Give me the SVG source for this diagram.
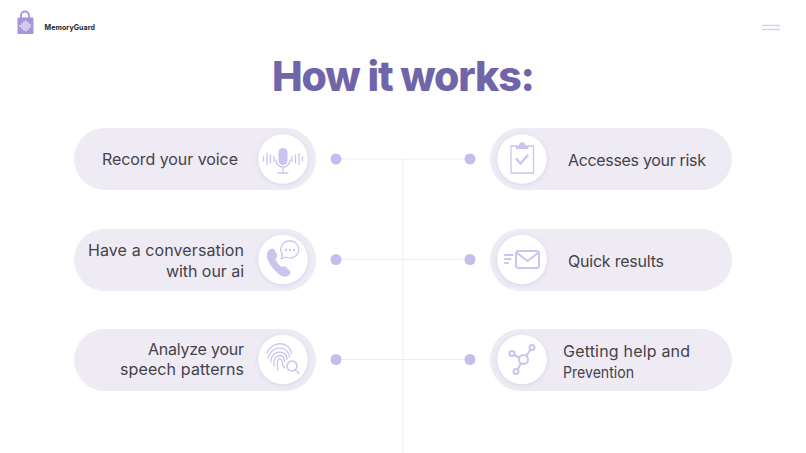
<svg xmlns="http://www.w3.org/2000/svg" width="806" height="453" viewBox="0 0 806 453">
<defs>
<filter id="s" x="-30%" y="-30%" width="160%" height="160%"><feDropShadow dx="0" dy="1" stdDeviation="2" flood-color="#6b5ea8" flood-opacity="0.18"/></filter>
</defs>
<style>
.pill{fill:#eeebf5}
.disc{fill:#fff;filter:url(#s)}
.dot{fill:#c5bdec}
.ln{stroke:#eeebf5;stroke-width:1;fill:none}
.ic{fill:none;stroke:#cbc4ee;stroke-width:2;stroke-linecap:round;stroke-linejoin:round}
.th{stroke-width:1.300}
.icf{fill:#cbc4ee}
.t{font-family:"Inter","Noto Sans",sans-serif;font-size:16px;fill:#454249}
</style>
<rect width="806" height="453" fill="#fff"/>
<g id="logo">
<path d="M21 18v-2.500a4 4 0 0 1 8 0V18" fill="none" stroke="#a595dc" stroke-width="1.800"/>
<rect x="17.500" y="17.500" width="16" height="16.500" rx="1" fill="#a595dc"/>
<path d="M20 25.500v1M22 23.500v5M24 21.500v9M26 21v10M28 22.500v7M30 24.500v3" stroke="#fff" stroke-width="1" stroke-linecap="round" fill="none"/>
<text x="44.500" y="30" font-family="Inter,'Noto Sans',sans-serif" font-size="7" font-weight="700" fill="#1f1d24" textLength="50.500">MemoryGuard</text>
</g>
<g id="menu" stroke="#d6d1f0" stroke-width="1.500"><path d="M762 25.500h18M762 29.500h18"/></g>
<text id="title" x="272" y="91" font-family="Inter,'Noto Sans',sans-serif" font-size="41" font-weight="800" fill="#7165aa" textLength="263">How it works:</text>
<g id="connectors" class="ln">
<path d="M341 159H465M341 259.500H465M341 359.500H465M403 159V453"/>
</g>
<g id="n1">
<rect class="pill" x="74" y="128" width="242" height="62" rx="31"/>
<circle class="disc" cx="283" cy="159" r="24.700"/>
<circle class="dot" cx="336" cy="159" r="5.500"/>
<rect class="icf" x="278.500" y="148" width="9" height="17" rx="4.500"/>
<path class="ic th" d="M276 160a7 7 0 0 0 14 0M283 167v5.500M278 173h10M263.500 157v4M267 153.500v11M270.500 155v8M274 156.500v5M292 156.500v5M295.500 155v8M299 153.500v11M302.500 157v4"/>
<text class="t" x="102" y="165" textLength="136">Record your voice</text>
</g>
<g id="n2">
<rect class="pill" x="74" y="229" width="242" height="62" rx="31"/>
<circle class="disc" cx="283" cy="259.500" r="24.700"/>
<circle class="dot" cx="336" cy="259.500" r="5.500"/>
<path class="icf" d="M269 250c2-2 4.500-2 5.500 0l2.500 4.500c.7 1.500 0 3-1.500 4 .5 3 3.500 7 6.500 8.500 1.500-1 3-1 4 0l3.500 3.500c1.500 1.500 1 3.500-1 5-3 2-6 1.500-9-1-6-4.500-11-11-12.500-17-.5-3 .5-6 2-7.500z"/>
<path class="ic th" d="M290 241a9 8.500 0 1 1-4.500 16l-4.500 2 1.500-4.500a9 8.500 0 0 1 7.500-13.500z"/>
<circle class="icf" cx="286" cy="250" r="1.200"/><circle class="icf" cx="290" cy="250" r="1.200"/><circle class="icf" cx="294" cy="250" r="1.200"/>
<text class="t" x="88" y="256" textLength="156">Have a conversation</text>
<text class="t" x="166" y="277" textLength="78">with our ai</text>
</g>
<g id="n3">
<rect class="pill" x="74" y="329" width="242" height="62" rx="31"/>
<circle class="disc" cx="283" cy="359.500" r="24.700"/>
<circle class="dot" cx="336" cy="359.500" r="5.500"/>
<path class="ic th" d="M267 353c3-8 13-12 20-7 3 2 4 5 4.500 8M268 358c2-8 10-12 16-9 4 2 5 5 5.500 8M271 362c0-7 5-11 11-9.500 4 1 5 4 5 7M274 366c-1-5 1-10 6-10.500 4 0 4 3 4.500 6M278 370c-1-4-1-7 0-10 1-2 4-1 4 1 0 3 1 5 2.500 7"/>
<circle cx="292" cy="366" r="5" fill="#fff" stroke="#cbc4ee" stroke-width="1.500"/>
<path class="ic th" d="M295.500 370l3.500 3.500"/>
<text class="t" x="148" y="355" textLength="96">Analyze your</text>
<text class="t" x="120" y="375" textLength="124">speech patterns</text>
</g>
<g id="n4">
<rect class="pill" x="490" y="128" width="242" height="62" rx="31"/>
<circle class="disc" cx="522" cy="159" r="24.700"/>
<circle class="dot" cx="470" cy="159" r="5.500"/>
<path class="ic th" d="M516 146h-5v27h22.500V146H528"/>
<path class="icf" d="M516 149v-3.500h3a3.200 3.200 0 0 1 6.400 0h3v3.500z"/>
<path class="ic" style="stroke-width:2.400" d="M516.500 159l4 4.500 7-8"/>
<text class="t" x="568" y="166" textLength="138">Accesses your risk</text>
</g>
<g id="n5">
<rect class="pill" x="490" y="229" width="242" height="62" rx="31"/>
<circle class="disc" cx="522" cy="259.500" r="24.700"/>
<circle class="dot" cx="470" cy="259.500" r="5.500"/>
<rect class="ic" x="516" y="251" width="23" height="17" rx="2.500"/>
<path class="ic" d="M517 253l10.500 8 10.500-8M505 255h7.500M505 259h5.500M505 263h3"/>
<text class="t" x="568" y="267" textLength="96">Quick results</text>
</g>
<g id="n6">
<rect class="pill" x="490" y="329" width="242" height="62" rx="31"/>
<circle class="disc" cx="522" cy="359.500" r="24.700"/>
<circle class="dot" cx="470" cy="359.500" r="5.500"/>
<circle class="ic" cx="523.500" cy="359.500" r="4.500"/>
<circle class="ic" cx="512" cy="353.500" r="2.500"/><circle class="ic" cx="532" cy="347.500" r="2.500"/><circle class="ic" cx="516" cy="371.500" r="2.500"/>
<path class="ic" d="M514 355l5.500 2.500M530.500 349.500l-4 6M517.500 369.500l3.500-6"/>
<text class="t" x="563" y="357" textLength="127">Getting help and</text>
<text class="t" x="563" y="378" textLength="71" lengthAdjust="spacingAndGlyphs">Prevention</text>
</g>
</svg>
